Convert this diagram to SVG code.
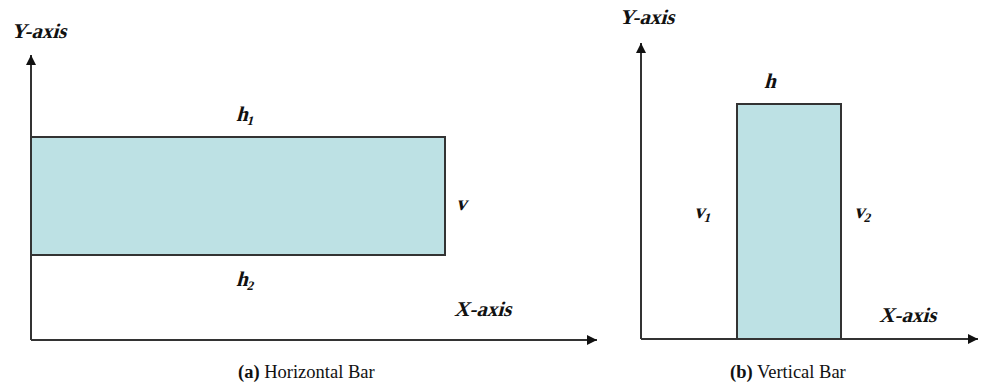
<svg xmlns="http://www.w3.org/2000/svg" width="982" height="388" viewBox="0 0 982 388">
<style>
.ax{stroke:#333;stroke-width:2;fill:none}
.bar{fill:#bde1e4;stroke:#333;stroke-width:2}
.lb{font-family:"Liberation Serif",serif;font-weight:bold;font-size:21px;fill:#111}
.sub{font-size:13px}
.cap{font-family:"Liberation Serif",serif;font-size:18.5px;fill:#111}
</style>
<defs>
<marker id="ah" viewBox="0 0 10 10" refX="10" refY="5" markerWidth="10" markerHeight="10" markerUnits="userSpaceOnUse" orient="auto">
<path d="M0,0 L10,5 L0,10 z" fill="#111"/>
</marker>
</defs>
<g id="bar-a"><rect class="bar" x="31" y="137" width="414" height="118"/></g>
<g id="bar-b"><rect class="bar" x="737" y="104" width="104" height="235"/></g>
<g id="connectors">
<path class="ax" d="M31,340 V55" marker-end="url(#ah)"/>
<path class="ax" d="M31,340 H597" marker-end="url(#ah)"/>
<path class="ax" d="M641,339 V43" marker-end="url(#ah)"/>
<path class="ax" d="M641,339 H978" marker-end="url(#ah)"/>
</g>
<g id="labels">
<text class="lb" transform="translate(11,38) skewX(-15)">Y-axis</text>
<text class="lb" transform="translate(236,121) skewX(-15)">h<tspan class="sub" dy="4">1</tspan></text>
<text class="lb" transform="translate(456,210) skewX(-15)">v</text>
<text class="lb" transform="translate(236,286) skewX(-15)">h<tspan class="sub" dy="4">2</tspan></text>
<text class="lb" transform="translate(454,316) skewX(-15)">X-axis</text>
<text class="lb" transform="translate(619,24) skewX(-15)">Y-axis</text>
<text class="lb" transform="translate(764,88) skewX(-15)">h</text>
<text class="lb" transform="translate(694,218) skewX(-15)">v<tspan class="sub" dy="4">1</tspan></text>
<text class="lb" transform="translate(854,218) skewX(-15)">v<tspan class="sub" dy="4">2</tspan></text>
<text class="lb" transform="translate(879,322) skewX(-15)">X-axis</text>
<text class="cap" x="238" y="378"><tspan font-weight="bold">(a)</tspan> Horizontal Bar</text>
<text class="cap" x="730" y="378"><tspan font-weight="bold">(b)</tspan> Vertical Bar</text>
</g>
</svg>
